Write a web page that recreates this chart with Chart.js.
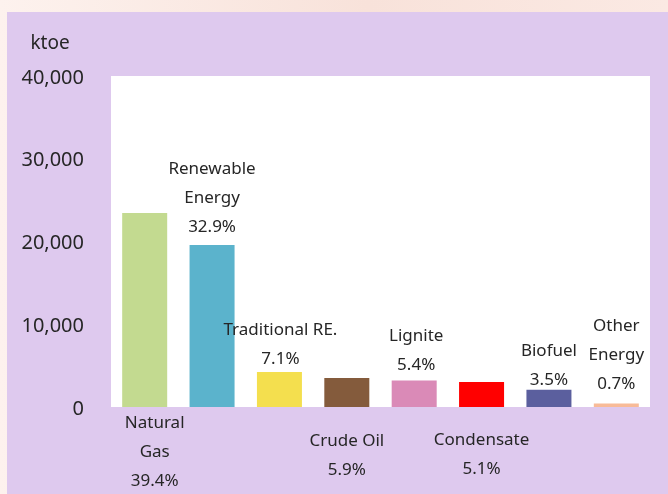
<!DOCTYPE html>
<html><head><meta charset="utf-8">
<script src="https://cdn.jsdelivr.net/npm/chart.js@4"></script>
<style>
html,body{margin:0;padding:0;width:668px;height:494px;overflow:hidden;background:linear-gradient(90deg,#fdf2ee 0%,#f8e2da 55%,#fbe9e3 100%);}
#panel{position:absolute;left:7px;top:12px;width:661px;height:482px;background:#dec9ee;}
canvas{position:absolute;left:0;top:0;}
</style></head>
<body><div id="panel"></div><canvas id="c" width="668" height="494"></canvas>
<script>
const categories = ['Natural Gas','Renewable Energy','Traditional RE.','Crude Oil','Lignite','Condensate','Biofuel','Other Energy'];
const labelLines = [['Natural','Gas'],['Renewable','Energy'],['Traditional RE.'],['Crude Oil'],['Lignite'],['Condensate'],['Biofuel'],['Other','Energy']];
const shares = ['39.4%','32.9%','7.1%','5.9%','5.4%','5.1%','3.5%','0.7%'];
const values = [23440,19580,4220,3510,3210,3030,2080,420];
const yTicks = [0,10000,20000,30000,40000];
const unitLabel = 'ktoe';

const barColors = ['#c3da90','#5bb3cc','#f4df4e','#845b3c','#da8ab7','#ff0000','#5b5f9e','#f8bb98'];
// label placement (style): below axis or above bar, with pixel gaps/offsets
const labelBelow = [true,false,false,true,false,true,false,false];
const labelGap = [16,18,13,34,15,33,10,19];
const labelDx = [10,0,1,0,2,0,0,0];
const LINE_H = 29;
const FONT = '"Noto Sans", sans-serif';

const plotBg = {
  id:'plotBg',
  beforeDraw(chart){
    const {ctx, chartArea:a} = chart;
    ctx.save(); ctx.fillStyle='#ffffff';
    ctx.fillRect(a.left, a.top, a.right-a.left, a.bottom-a.top);
    ctx.restore();
  }
};
const labelsPlugin = {
  id:'barLabels',
  afterDraw(chart){
    const {ctx} = chart;
    const meta = chart.getDatasetMeta(0);
    const yS = chart.scales.y;
    ctx.save();
    ctx.fillStyle='#262626';
    ctx.textAlign='center'; ctx.textBaseline='middle';
    ctx.font = '17px '+FONT;
    meta.data.forEach((bar,i)=>{
      const lines = labelLines[i].concat([shares[i]]);
      const x = bar.x + labelDx[i];
      if (labelBelow[i]) {
        const y0 = yS.getPixelForValue(0) + labelGap[i];
        lines.forEach((t,k)=>ctx.fillText(t, x, y0 + k*LINE_H));
      } else {
        const yl = bar.y - labelGap[i];
        const n = lines.length;
        lines.forEach((t,k)=>ctx.fillText(t, x, yl - (n-1-k)*LINE_H));
      }
    });
    ctx.font = '19px '+FONT;
    ctx.fillText(unitLabel, 50, 44);
    ctx.restore();
  }
};

new Chart(document.getElementById('c'), {
  type:'bar',
  data:{ labels: categories, datasets:[{ data: values, backgroundColor: barColors, borderWidth:0 }] },
  options:{
    responsive:false, animation:false, devicePixelRatio:1,
    layout:{ padding:{ left:0, top:76, right:18, bottom:87 } },
    plugins:{ legend:{display:false}, tooltip:{enabled:false} },
    datasets:{ bar:{ categoryPercentage:1, barPercentage:0.668 } },
    scales:{
      x:{ display:true, grid:{display:false, drawTicks:false}, border:{display:false}, ticks:{display:false} },
      y:{
        min:0, max:40000,
        afterBuildTicks(s){ s.ticks = yTicks.map(v=>({value:v})); },
        afterFit(s){ s.width = 111; },
        grid:{display:false, drawTicks:false}, border:{display:false},
        ticks:{ padding:27, labelOffset:2, color:'#262626', font:{size:20, family:FONT},
          callback:(v)=>Number(v).toLocaleString('en-US') }
      }
    }
  },
  plugins:[plotBg, labelsPlugin]
});
</script>
</body></html>
